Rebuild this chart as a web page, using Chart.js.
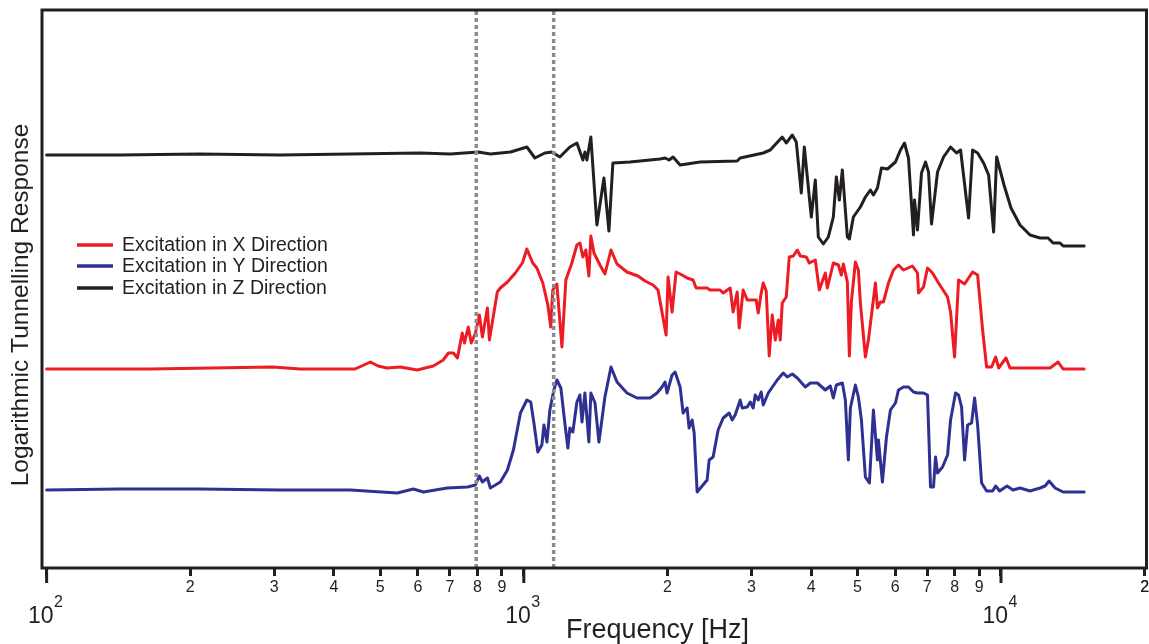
<!DOCTYPE html>
<html>
<head>
<meta charset="utf-8">
<script src="https://cdn.jsdelivr.net/npm/chart.js@4.4.1/dist/chart.umd.min.js"></script>
<style>
  html, body { margin: 0; padding: 0; background: #fff; }
</style>
</head>
<body>
<canvas id="chart" width="1149" height="644"></canvas>
<script>
// ======================
// Measured response (frequency in Hz, response in arbitrary units)
// ======================
const zFreq = [100,142,209,308,433,607,701,803,851,938,1015,1055,1107,1145,1190,1249,1292,1330,1343,1356,1382,1423,1472,1508,1537,1669,1930,1977,2016,2055,2126,2341,2800,2841,3175,3284,3480,3548,3653,3724,3815,3871,4004,4082,4142,4243,4347,4453,4518,4584,4651,4765,4811,4905,5074,5198,5325,5403,5509,5616,5782,6010,6156,6277,6399,6556,6588,6684,6814,6947,7049,7152,7362,7579,7840,8070,8228,8552,8719,8933,9195,9420,9651,9792,10146,10495,10961,11504,12073,12550,12858,13300,13495,14936];
const zResp = [413,413,414,413,414,415,414,416,414,416,421,410,415,416,411,421,425,408,416,408,431,343,390,337,405,406,409,410,408,411,403,406,407,410,415,418,431,425,433,426,375,421,351,388,331,324,331,351,391,368,398,331,329,351,361,371,378,373,380,400,399,406,418,425,410,333,368,338,395,406,396,344,396,411,421,415,418,350,418,415,405,393,336,411,383,360,343,333,330,330,325,325,322,322];

const xFreq = [100,165,298,340,443,477,495,517,551,598,
  646,678,695,712,726,743,751,765,776,792,
  807,819,839,847,880,893,924,960,993,1015,
  1044,1065,1096,1123,1139,1150,1173,1202,1225,1261,
  1292,1311,1330,1349,1369,1382,1403,1444,1479,1523,
  1568,1645,1735,1795,1866,1911,1987,2006,2045,2085,
  2146,2199,2263,2297,2422,2457,2579,2617,2707,2746,
  2800,2827,2882,2939,3069,3099,3144,3175,3221,3268,
  3316,3365,3414,3447,3480,3548,3600,3670,3742,3797,
  3908,3966,4082,4162,4284,4326,4453,4562,4629,4674,
  4765,4811,4858,4953,5025,5074,5198,5274,5456,5509,
  5589,5671,5810,5952,6097,6246,6524,6684,6716,6880,
  7015,7186,7398,7727,7840,7993,8149,8389,8719,8933,
  9151,9330,9558,9745,9887,10244,10444,11504,12672,13172,
  13495,14936];
const xResp = [199,199,201,199,199,206,202,200,201,198,
  202,208,215,215,210,235,225,241,225,235,
  253,231,260,228,276,280,286,295,305,319,
  305,300,285,263,241,278,284,221,288,305,
  323,325,311,318,292,332,315,303,294,318,
  304,296,292,287,283,278,233,291,256,296,
  293,290,288,280,280,278,278,275,280,256,
  276,240,278,268,268,255,275,285,277,212,
  253,228,248,228,265,271,311,312,318,312,
  311,305,308,278,295,280,305,303,293,304,
  286,212,266,306,298,265,211,228,285,260,
  266,266,285,298,303,298,302,295,275,281,
  300,295,285,271,256,211,288,284,296,293,
  238,201,201,211,200,210,200,200,200,206,
  199,199];

const yFreq = [100,142,209,308,433,543,587,616,691,762,
  792,807,819,839,851,872,893,924,951,984,
  1015,1034,1050,1070,1091,1102,1118,1134,1156,1173,
  1196,1219,1237,1249,1267,1292,1311,1324,1343,1369,
  1382,1410,1437,1479,1523,1568,1645,1727,1839,1902,
  1948,1977,1996,2045,2075,2126,2157,2199,2220,2253,
  2275,2308,2422,2446,2493,2554,2617,2694,2733,2773,
  2841,2868,2939,2982,3025,3055,3099,3144,3175,3253,
  3397,3497,3565,3653,3742,3890,3985,4122,4284,4389,
  4453,4518,4651,4719,4788,4835,4953,5025,5099,5198,
  5300,5403,5509,5535,5643,5754,5866,6010,6097,6246,
  6399,6556,6684,6880,7015,7117,7221,7291,7362,7542,
  7727,7840,8031,8149,8268,8389,8511,8677,8804,8933,
  9107,9330,9604,9745,9935,10294,10597,10961,11504,12073,
  12370,12611,12982,13495,14936];
const yResp = [78,79,79,78,78,75,79,76,80,81,
  83,92,86,90,80,83,86,98,118,155,
  168,166,145,116,123,143,126,158,178,188,
  180,145,120,140,136,166,173,146,175,126,
  175,165,126,171,201,186,175,170,170,175,
  181,186,175,193,196,181,155,160,140,148,
  135,76,88,108,111,138,150,155,148,153,
  168,160,161,166,160,173,168,176,163,175,
  188,195,191,194,190,181,185,185,178,182,
  170,183,185,168,108,160,183,171,148,91,
  85,158,108,128,86,131,158,165,178,181,
  181,176,175,175,173,81,81,111,95,101,
  113,148,175,173,161,108,143,145,170,143,
  85,77,77,82,77,82,78,80,77,80,
  82,87,80,76,76];

// marked frequencies (dotted verticals)
const markerFreq = [795, 1155];

// axis ticks: 1..9 per decade, plus 2x10^4
const tickDecades = [100, 1000, 10000];
const tickSteps = [1, 2, 3, 4, 5, 6, 7, 8, 9];
const tickExtra = [20000];

const seriesNames = ['Excitation in X Direction', 'Excitation in Y Direction', 'Excitation in Z Direction'];
const seriesColors = ['#ed1c24', '#2e3192', '#231f20'];

const FONT = "'Liberation Sans', Arial, Helvetica, sans-serif";
const INK = '#231f20';

function toPoints(freq, resp) {
  return freq.map((f, i) => ({ x: f, y: resp[i] }));
}

const tickValues = [];
tickDecades.forEach(d => tickSteps.forEach(s => tickValues.push(d * s)));
tickExtra.forEach(v => tickValues.push(v));

function isDecade(v) {
  return tickDecades.indexOf(v) !== -1;
}

// Markers first so they are painted on top of the curves
const markerSets = markerFreq.map(f => ({
  label: 'marker',
  data: [{ x: f, y: 0 }, { x: f, y: 558 }],
  borderColor: '#8c8c8c',
  borderWidth: 3.5,
  borderDash: [4, 3],
  pointRadius: 0
}));

const curveSets = [
  toPoints(xFreq, xResp),
  toPoints(yFreq, yResp),
  toPoints(zFreq, zResp)
].map((pts, i) => ({
  label: seriesNames[i],
  data: pts,
  borderColor: seriesColors[i],
  borderWidth: 3,
  borderJoinStyle: 'round',
  borderCapStyle: 'round',
  pointRadius: 0,
  tension: 0
}));

// frame, decade labels, titles and legend
const decorations = {
  id: 'decorations',
  afterDraw(chart) {
    const ctx = chart.ctx;
    const a = chart.chartArea;
    const xs = chart.scales.x;
    ctx.save();

    ctx.strokeStyle = INK;
    ctx.lineWidth = 3;
    ctx.strokeRect(a.left, a.top, a.right - a.left, a.bottom - a.top);

    // longer ticks + 10^n labels at each decade
    ctx.fillStyle = INK;
    tickDecades.forEach((d, i) => {
      const px = xs.getPixelForValue(d);
      ctx.beginPath();
      ctx.moveTo(px, a.bottom);
      ctx.lineTo(px, a.bottom + 15);
      ctx.stroke();

      ctx.font = '23px ' + FONT;
      ctx.textAlign = 'right';
      ctx.textBaseline = 'alphabetic';
      ctx.fillText('10', px + 7, 623);
      ctx.font = '16px ' + FONT;
      ctx.textAlign = 'left';
      ctx.fillText(String(2 + i), px + 7.5, 607);
    });

    // x title
    ctx.font = '27px ' + FONT;
    ctx.textAlign = 'left';
    ctx.textBaseline = 'alphabetic';
    ctx.fillText('Frequency [Hz]', 566, 638);

    // y title
    ctx.save();
    ctx.translate(28, 305);
    ctx.rotate(-Math.PI / 2);
    ctx.font = '24.5px ' + FONT;
    ctx.textAlign = 'center';
    ctx.fillText('Logarithmic Tunnelling Response', 0, 0);
    ctx.restore();

    // legend
    const rows = [245, 266, 288];
    ctx.font = '19.5px ' + FONT;
    ctx.textAlign = 'left';
    ctx.textBaseline = 'middle';
    seriesNames.forEach((name, i) => {
      ctx.strokeStyle = seriesColors[i];
      ctx.lineWidth = 3.5;
      ctx.beginPath();
      ctx.moveTo(77, rows[i]);
      ctx.lineTo(113, rows[i]);
      ctx.stroke();
      ctx.fillStyle = INK;
      ctx.fillText(name, 122, rows[i] + 1);
    });

    ctx.restore();
  }
};

new Chart(document.getElementById('chart'), {
  type: 'line',
  data: { datasets: markerSets.concat(curveSets) },
  options: {
    responsive: false,
    animation: false,
    events: [],
    layout: { padding: { left: 42, right: 2.5, top: 10, bottom: 0 } },
    plugins: { legend: { display: false }, tooltip: { enabled: false } },
    scales: {
      x: {
        type: 'logarithmic',
        min: 97.8,
        max: 20180,
        border: { display: false },
        grid: { drawOnChartArea: false, drawTicks: true, tickLength: 8, tickWidth: 3, tickColor: INK },
        ticks: {
          autoSkip: false,
          maxRotation: 0,
          minRotation: 0,
          padding: 2,
          color: INK,
          font: { family: FONT, size: 16 },
          callback: (v) => {
            if (isDecade(v)) return '';
            return String(Math.round(v / Math.pow(10, Math.floor(Math.log10(v) + 1e-9))));
          }
        },
        afterBuildTicks: (s) => { s.ticks = tickValues.map(v => ({ value: v })); },
        afterFit: (s) => { s.height = 76; s.paddingLeft = 0; s.paddingRight = 0; }
      },
      y: { type: 'linear', min: 0, max: 558, display: false }
    }
  },
  plugins: [decorations]
});
</script>
</body>
</html>
